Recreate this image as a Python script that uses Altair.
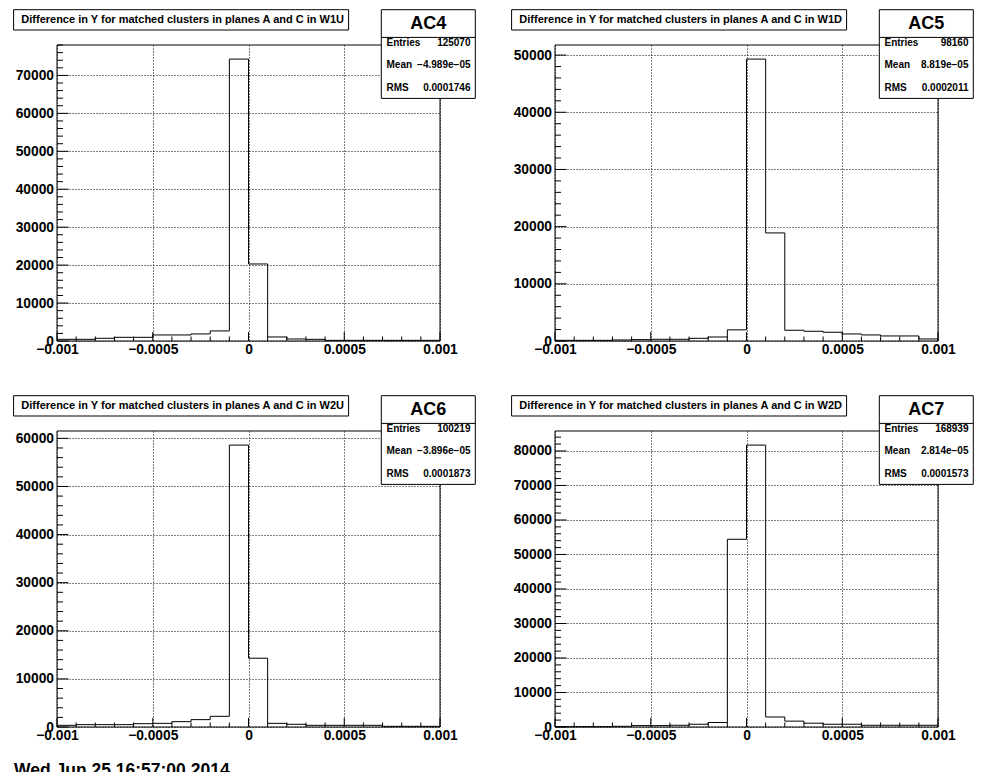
import altair as alt
import pandas as pd

# ---------------- data ----------------
EDGES = [-0.001, -0.0009, -0.0008, -0.0007, -0.0006, -0.0005, -0.0004, -0.0003,
         -0.0002, -0.0001, 0.0, 0.0001, 0.0002, 0.0003, 0.0004, 0.0005, 0.0006,
         0.0007, 0.0008, 0.0009, 0.001]

AC4 = [440, 440, 710, 970, 970, 1590, 1590, 1860, 2650, 74300, 20300,
       1060, 530, 440, 180, 180, 180, 180, 180, 180]
AC5 = [120, 120, 120, 180, 240, 300, 300, 470, 700, 1950, 49300,
       18900, 1880, 1700, 1530, 1230, 1060, 880, 880, 350]
AC6 = [350, 490, 490, 490, 690, 760, 1110, 1530, 2220, 58600, 14300,
       760, 560, 350, 350, 350, 350, 140, 140, 140]
AC7 = [100, 100, 100, 200, 400, 400, 500, 800, 1300, 54400, 81700,
       2900, 1700, 1100, 800, 800, 500, 500, 500, 500]
VALUES = [AC4, AC5, AC6, AC7]

TITLES = ["Difference in Y for matched clusters in planes A and C in W1U",
          "Difference in Y for matched clusters in planes A and C in W1D",
          "Difference in Y for matched clusters in planes A and C in W2U",
          "Difference in Y for matched clusters in planes A and C in W2D"]
NAMES = ["AC4", "AC5", "AC6", "AC7"]
ENTRIES = ["125070", "98160", "100219", "168939"]
MEANS = ["\u22124.989e\u221205", "8.819e\u221205", "\u22123.896e\u221205", "2.814e\u221205"]
RMSS = ["0.0001746", "0.0002011", "0.0001873", "0.0001573"]

X_MAJOR = [-0.001, -0.0005, 0.0, 0.0005, 0.001]
X_MINOR = [-0.0009, -0.0008, -0.0007, -0.0006, -0.0004, -0.0003, -0.0002, -0.0001,
           0.0001, 0.0002, 0.0003, 0.0004, 0.0006, 0.0007, 0.0008, 0.0009]
Y_MAJOR = [0, 10000, 20000, 30000, 40000, 50000, 60000, 70000, 80000]
Y_MINOR = [v for v in range(2000, 86000, 2000) if v % 10000 != 0]

STAMP = "Wed Jun 25 16:57:00 2014"

# ---------------- style ----------------
F = "Liberation Sans"
W, H = 383, 296


def panel(i, stamp=False):
    vals = VALUES[i]
    ymax = 1.05 * max(vals)
    xs = alt.Scale(domain=[-0.001, 0.001], nice=False, zero=False)
    ys = alt.Scale(domain=[0, ymax], nice=False, zero=False)
    ymaj = [v for v in Y_MAJOR if v <= ymax]
    ymin = [v for v in Y_MINOR if v <= ymax]

    xaxis = alt.Axis(values=X_MAJOR, grid=True, labelFlush=False,
                     labelOverlap=False, labelPadding=1, domain=False, ticks=False,
                     labelFont=F, labelFontWeight="bold", labelFontSize=13.8,
                     labelColor="black", gridColor="black", gridDash=[1, 2],
                     gridOpacity=1, gridWidth=1,
                     labelExpr="replace(format(datum.value, '~g'), '-', '\u2212')")
    yaxis = alt.Axis(values=ymaj, grid=True, format="d", labelFlush=False,
                     labelOverlap=False, labelPadding=3.5, domain=False, ticks=False,
                     labelFont=F, labelFontWeight="bold", labelFontSize=13.8,
                     labelColor="black", gridColor="black", gridDash=[1, 2],
                     gridOpacity=1, gridWidth=1)

    # axes carrier layer (grid + labels)
    axes_df = pd.DataFrame({"x": [-0.001, 0.001], "y": [0, ymax]})
    axes_layer = alt.Chart(axes_df).mark_point(opacity=0).encode(
        x=alt.X("x:Q", scale=xs, title=None, axis=xaxis),
        y=alt.Y("y:Q", scale=ys, title=None, axis=yaxis),
    )

    hist_df = pd.DataFrame({"x": EDGES, "y": vals + [vals[-1]]})
    hist = alt.Chart(hist_df).mark_line(
        interpolate="step-after", color="black", strokeWidth=1
    ).encode(
        x=alt.X("x:Q", scale=xs, title=None, axis=xaxis),
        y=alt.Y("y:Q", scale=ys, title=None, axis=yaxis),
    )

    xticks_major = alt.Chart(pd.DataFrame({"x": X_MAJOR})).mark_rule(
        color="black", strokeWidth=1).encode(
        x=alt.X("x:Q", scale=xs, title=None, axis=xaxis),
        y=alt.value(H), y2=alt.value(H - 9))
    xticks_minor = alt.Chart(pd.DataFrame({"x": X_MINOR})).mark_rule(
        color="black", strokeWidth=1).encode(
        x=alt.X("x:Q", scale=xs, title=None, axis=xaxis),
        y=alt.value(H), y2=alt.value(H - 4.5))
    yticks_major = alt.Chart(pd.DataFrame({"y": ymaj})).mark_rule(
        color="black", strokeWidth=1).encode(
        y=alt.Y("y:Q", scale=ys, title=None, axis=yaxis),
        x=alt.value(0), x2=alt.value(11.5))
    yticks_minor = alt.Chart(pd.DataFrame({"y": ymin})).mark_rule(
        color="black", strokeWidth=1).encode(
        y=alt.Y("y:Q", scale=ys, title=None, axis=yaxis),
        x=alt.value(0), x2=alt.value(6))

    info = pd.DataFrame([{"title": TITLES[i], "name": NAMES[i],
                          "entries": ENTRIES[i], "mean": MEANS[i], "rms": RMSS[i],
                          "stamp": STAMP}])
    base = alt.Chart(info)

    frame = base.mark_rect(fillOpacity=0, stroke="black", strokeWidth=1).encode(
        x=alt.value(0), x2=alt.value(W), y=alt.value(0), y2=alt.value(H))

    tbox = base.mark_rect(fill="white", stroke="black", strokeWidth=1).encode(
        x=alt.value(-43.4), x2=alt.value(291.6), y=alt.value(-35.3), y2=alt.value(-15))
    ttext = base.mark_text(align="left", baseline="middle", font=F,
                           fontWeight="bold", fontSize=11, color="black").encode(
        x=alt.value(-35.7), y=alt.value(-25), text="title:N")

    sbox = base.mark_rect(fill="white", stroke="black", strokeWidth=1).encode(
        x=alt.value(324.3), x2=alt.value(418.3), y=alt.value(-35.3), y2=alt.value(53.4))
    ssep = base.mark_rule(color="black", strokeWidth=1).encode(
        x=alt.value(324.3), x2=alt.value(418.3), y=alt.value(-7.6))
    shead = base.mark_text(align="center", baseline="middle", font=F,
                           fontWeight="bold", fontSize=18, color="black").encode(
        x=alt.value(371.3), y=alt.value(-21.2), text="name:N")

    layers = [axes_layer, hist, xticks_major, xticks_minor, yticks_major,
              yticks_minor, frame, tbox, ttext, sbox, ssep, shead]
    for lab, field, yy in [("Entries", "entries", -2.5), ("Mean", "mean", 20),
                           ("RMS", "rms", 42.5)]:
        layers.append(base.mark_text(align="left", baseline="middle", font=F,
                                     fontWeight="bold", fontSize=10, color="black",
                                     text=lab).encode(x=alt.value(329.5), y=alt.value(yy)))
        layers.append(base.mark_text(align="right", baseline="middle", font=F,
                                     fontWeight="bold", fontSize=10,
                                     color="black").encode(
            x=alt.value(413.5), y=alt.value(yy), text=f"{field}:N"))
    if stamp:
        layers.append(base.mark_text(align="left", baseline="alphabetic", font=F,
                                     fontWeight="bold", fontSize=17.5,
                                     color="black").encode(
            x=alt.value(-43), y=alt.value(345), text="stamp:N"))

    return alt.layer(*layers).properties(width=W, height=H)


chart = alt.concat(
    panel(0), panel(1), panel(2, stamp=True), panel(3),
    columns=2, spacing={"row": 90, "column": 115}, bounds="flush",
).properties(
    padding={"left": 5, "top": 1, "right": 5, "bottom": 0},
    background="white",
).configure_view(stroke=None)

chart.save("out.html", embed_options={"renderer": "svg", "actions": False})
